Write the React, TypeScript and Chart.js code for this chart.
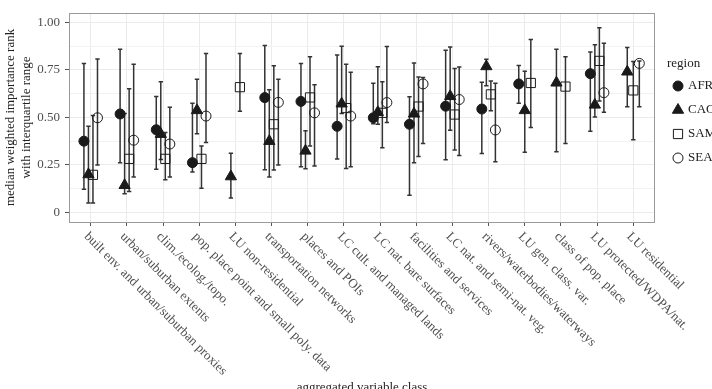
import React, { useEffect, useRef } from 'react';
import { Chart, registerables } from 'chart.js';

Chart.register(...registerables);

const categories = [
  'built env. and urban/suburban proxies',
  'urban/suburban extents',
  'clim./ecolog./topo.',
  'pop. place point and small poly. data',
  'LU non-residential',
  'transportation networks',
  'places and POIs',
  'LC cult. and managed lands',
  'LC nat. bare surfaces',
  'facilities and services',
  'LC nat. and semi-nat. veg.',
  'rivers/waterbodies/waterways',
  'LU gen. class. var.',
  'class of pop. place',
  'LU protected/WDPA/nat.',
  'LU residential',
];

const regions = ['AFR', 'CAC', 'SAM', 'SEA'];

const afrMedian = [0.375, 0.518, 0.435, 0.262, null, 0.604, 0.584, 0.453, 0.498, 0.464, 0.559, 0.544, 0.676, null, 0.73, null];
const afrLow = [0.122, 0.262, 0.227, 0.213, null, 0.225, 0.24, 0.281, 0.467, 0.091, 0.277, 0.31, 0.574, null, 0.427, null];
const afrHigh = [0.784, 0.858, 0.61, 0.574, null, 0.878, 0.784, 0.828, 0.679, 0.608, 0.853, 0.685, 0.773, null, 0.844, null];

const cacMedian = [0.2, 0.143, 0.412, 0.537, 0.189, 0.375, 0.324, 0.572, 0.527, 0.519, 0.611, 0.768, 0.537, 0.682, 0.566, 0.74];
const cacLow = [0.05, 0.098, 0.279, 0.414, 0.076, 0.186, 0.23, 0.52, 0.464, 0.262, 0.432, 0.666, 0.317, 0.319, 0.502, 0.556];
const cacHigh = [0.453, 0.52, 0.687, 0.7, 0.312, 0.645, 0.43, 0.874, 0.766, 0.786, 0.87, 0.806, 0.743, 0.858, 0.882, 0.867];

const samMedian = [0.198, 0.282, 0.282, 0.282, 0.659, 0.464, 0.605, 0.549, 0.524, 0.557, 0.515, 0.621, 0.681, 0.662, 0.797, 0.642];
const samLow = [0.05, 0.11, 0.172, 0.127, 0.532, 0.223, 0.35, 0.231, 0.341, 0.295, 0.329, 0.535, 0.447, 0.363, 0.586, 0.383];
const samHigh = [0.51, 0.65, 0.42, 0.35, 0.836, 0.772, 0.819, 0.78, 0.687, 0.713, 0.757, 0.692, 0.909, 0.819, 0.971, 0.794];

const seaMedian = [0.498, 0.38, 0.36, 0.507, null, 0.579, 0.524, 0.507, 0.578, 0.676, 0.594, 0.434, null, null, 0.63, 0.784];
const seaLow = [0.25, 0.186, 0.186, 0.368, null, 0.25, 0.245, 0.24, 0.473, 0.363, 0.3, 0.267, null, null, 0.527, 0.556];
const seaHigh = [0.807, 0.78, 0.554, 0.836, null, 0.7, 0.672, 0.738, 0.873, 0.71, 0.765, 0.679, null, null, 0.89, 0.797];

const yMajorTicks = [0, 0.25, 0.5, 0.75, 1];
const yTickLabels = ['0', '0.25', '0.50', '0.75', '1.00'];
const yMinorTicks = [0.125, 0.375, 0.625, 0.875];

const yTitleLines = ['median weighted importance rank', 'with interquartile range'];
const xTitle = 'aggregated variable class';
const legendTitle = 'region';

const seriesMedian = [afrMedian, cacMedian, samMedian, seaMedian];
const seriesLow = [afrLow, cacLow, samLow, seaLow];
const seriesHigh = [afrHigh, cacHigh, samHigh, seaHigh];

const markerStyles = ['circle', 'triangle', 'rect', 'circle'];
const markerFilled = [true, true, false, false];
const markerRadius = [5, 6.5, 6.5, 5];

const FONT = '"Liberation Serif", "DejaVu Serif", serif';
const DODGE_WIDTH = 0.5;

function dodgeOffset(catIndex: number, regionIndex: number): number {
  const present: number[] = [];
  for (let r = 0; r < regions.length; r++) {
    if (seriesMedian[r][catIndex] != null) present.push(r);
  }
  const n = present.length;
  const k = present.indexOf(regionIndex);
  return (k - (n - 1) / 2) * (DODGE_WIDTH / n);
}

function drawMarker(ctx: CanvasRenderingContext2D, style: string, filled: boolean, x: number, y: number, r: number) {
  ctx.beginPath();
  if (style === 'circle') {
    ctx.arc(x, y, r, 0, Math.PI * 2);
  } else if (style === 'triangle') {
    let rad = 0;
    ctx.moveTo(x + Math.sin(rad) * r, y - Math.cos(rad) * r);
    rad += (2 * Math.PI) / 3;
    ctx.lineTo(x + Math.sin(rad) * r, y - Math.cos(rad) * r);
    rad += (2 * Math.PI) / 3;
    ctx.lineTo(x + Math.sin(rad) * r, y - Math.cos(rad) * r);
    ctx.closePath();
  } else {
    const s = Math.SQRT1_2 * r;
    ctx.rect(x - s, y - s, 2 * s, 2 * s);
  }
  if (filled) {
    ctx.fillStyle = '#1a1a1a';
    ctx.fill();
  }
  ctx.strokeStyle = '#1a1a1a';
  ctx.lineWidth = 1;
  ctx.stroke();
}

const decorPlugin = {
  id: 'decor',
  beforeDatasetsDraw(chart: any) {
    const ctx = chart.ctx as CanvasRenderingContext2D;
    const xs = chart.scales.x;
    const ys = chart.scales.y;
    ctx.save();
    ctx.strokeStyle = '#333333';
    ctx.lineWidth = 1.5;
    chart.data.datasets.forEach((ds: any) => {
      ds.data.forEach((d: any) => {
        const px = xs.getPixelForValue(d.x);
        const pl = ys.getPixelForValue(d.low);
        const ph = ys.getPixelForValue(d.high);
        const cap = xs.getPixelForValue(d.x + 0.06) - px;
        ctx.beginPath();
        ctx.moveTo(px, pl);
        ctx.lineTo(px, ph);
        ctx.moveTo(px - cap, pl);
        ctx.lineTo(px + cap, pl);
        ctx.moveTo(px - cap, ph);
        ctx.lineTo(px + cap, ph);
        ctx.stroke();
      });
    });
    ctx.restore();
  },
  afterDraw(chart: any) {
    const ctx = chart.ctx as CanvasRenderingContext2D;
    const area = chart.chartArea;
    const xs = chart.scales.x;
    ctx.save();
    // panel border
    ctx.strokeStyle = '#9a9a9a';
    ctx.lineWidth = 1;
    ctx.strokeRect(Math.round(area.left) + 0.5, Math.round(area.top) + 0.5, Math.round(area.right - area.left) - 1, Math.round(area.bottom - area.top));

    // x tick labels rotated clockwise
    ctx.font = `13px ${FONT}`;
    ctx.fillStyle = '#4d4d4d';
    ctx.textAlign = 'left';
    ctx.textBaseline = 'top';
    categories.forEach((label, i) => {
      const px = xs.getPixelForValue(i);
      ctx.save();
      ctx.translate(px, area.bottom + 8);
      ctx.rotate(Math.PI / 4);
      ctx.fillText(label, 0, 0);
      ctx.restore();
    });

    // y title
    ctx.fillStyle = '#222222';
    ctx.textAlign = 'center';
    ctx.textBaseline = 'middle';
    const cy = (area.top + area.bottom) / 2;
    yTitleLines.forEach((line, i) => {
      ctx.save();
      ctx.translate(11 + i * 16, cy);
      ctx.rotate(-Math.PI / 2);
      ctx.fillText(line, 0, 0);
      ctx.restore();
    });

    // x title
    ctx.textAlign = 'center';
    ctx.textBaseline = 'alphabetic';
    ctx.fillText(xTitle, (area.left + area.right) / 2, 391);

    // legend
    ctx.textAlign = 'left';
    ctx.textBaseline = 'middle';
    ctx.fillStyle = '#222222';
    ctx.fillText(legendTitle, 667, 64);
    regions.forEach((name, r) => {
      const ly = 86 + r * 24;
      drawMarker(ctx, markerStyles[r], markerFilled[r], 678, ly, markerRadius[r]);
      ctx.fillStyle = '#222222';
      ctx.fillText(name, 688, ly);
    });
    ctx.restore();
  },
};

export default function App() {
  const canvasRef = useRef<HTMLCanvasElement | null>(null);

  useEffect(() => {
    if (!canvasRef.current) return;
    const datasets = regions.map((name, r) => ({
      label: name,
      data: categories
        .map((_, i) =>
          seriesMedian[r][i] == null
            ? null
            : { x: i + dodgeOffset(i, r), y: seriesMedian[r][i], low: seriesLow[r][i], high: seriesHigh[r][i] }
        )
        .filter((d) => d !== null),
      pointStyle: markerStyles[r],
      pointRadius: markerRadius[r],
      backgroundColor: markerFilled[r] ? '#1a1a1a' : 'rgba(0,0,0,0)',
      borderColor: '#1a1a1a',
      borderWidth: 1,
      showLine: false,
    }));

    const minorSet = new Set(yMinorTicks);

    const chart = new Chart(canvasRef.current, {
      type: 'scatter',
      data: { datasets: datasets as any },
      plugins: [decorPlugin],
      options: {
        animation: false,
        responsive: false,
        devicePixelRatio: 1,
        events: [],
        layout: { padding: { top: 6, right: 57, left: 0, bottom: 0 } },
        plugins: { legend: { display: false }, tooltip: { enabled: false } },
        scales: {
          x: {
            type: 'linear',
            min: -0.6,
            max: 15.6,
            afterBuildTicks: (s: any) => {
              s.ticks = categories.map((_, i) => ({ value: i }));
            },
            afterFit: (s: any) => {
              s.height = 167;
            },
            ticks: { display: false },
            grid: { color: '#ebebeb', lineWidth: 1, tickColor: '#555555', tickLength: 4 },
            border: { display: false },
          },
          y: {
            type: 'linear',
            min: -0.05,
            max: 1.05,
            afterBuildTicks: (s: any) => {
              s.ticks = [...yMajorTicks, ...yMinorTicks].sort((a, b) => a - b).map((v) => ({ value: v }));
            },
            afterFit: (s: any) => {
              s.width = 69;
            },
            ticks: {
              autoSkip: false,
              padding: 5,
              color: '#4d4d4d',
              font: { family: FONT, size: 13 },
              callback: (v: any) => {
                const idx = yMajorTicks.indexOf(Number(v));
                return idx >= 0 ? yTickLabels[idx] : '';
              },
            },
            grid: {
              color: (c: any) => (c.tick && minorSet.has(c.tick.value) ? '#f2f2f2' : '#ebebeb'),
              lineWidth: 1,
              tickColor: (c: any) => (c.tick && minorSet.has(c.tick.value) ? 'rgba(0,0,0,0)' : '#555555'),
              tickLength: 4,
            },
            border: { display: false },
          },
        },
      } as any,
    });
    return () => chart.destroy();
  }, []);

  return (
    <div style={{ position: 'fixed', left: 0, top: 0, width: 712, height: 389, background: '#ffffff' }}>
      <canvas ref={canvasRef} width={712} height={389} style={{ display: 'block' }} />
    </div>
  );
}
